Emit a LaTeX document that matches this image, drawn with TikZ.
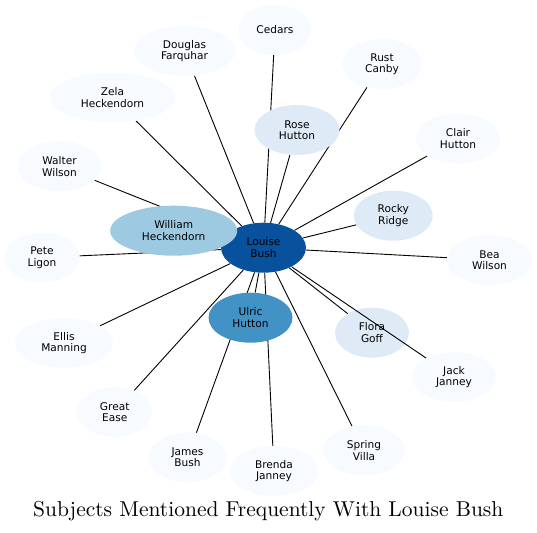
\documentclass[tikz,border=0pt]{standalone}
\usepackage{fontspec}
\newfontfamily\nodefont{DejaVu Sans}
\newfontfamily\titlefont[Extension=.otf]{lmroman10-regular}
\usetikzlibrary{shapes.geometric}
\pgfdeclarelayer{bg}
\pgfsetlayers{bg,main}
\definecolor{cA}{HTML}{F7FBFF}
\definecolor{cB}{HTML}{DEEBF7}
\definecolor{cC}{HTML}{9ECAE1}
\definecolor{cD}{HTML}{4292C6}
\definecolor{cE}{HTML}{08519C}
\begin{document}
\begin{tikzpicture}[x=1pt,y=-1pt,
  ent/.style={ellipse, draw=none, inner sep=0pt, minimum height=50pt, align=center,
    font=\nodefont\fontsize{10.6}{11.5}\selectfont},
  link/.style={line width=0.9pt, draw=black}]
\useasboundingbox (0,0) rectangle (537,532);
% nodes
\node[ent, fill=cE, minimum width=85pt] (louise) at (263.5,247.7) {Louise\\Bush};
\node[ent, fill=cC, minimum width=127pt] (william) at (173.7,230.7) {William\\Heckendorn};
\node[ent, fill=cD, minimum width=84pt] (ulric) at (250.5,317.7) {Ulric\\Hutton};
\node[ent, fill=cB, minimum width=85pt] (rose) at (297,130) {Rose\\Hutton};
\node[ent, fill=cB, minimum width=79pt] (rocky) at (393.3,215.7) {Rocky\\Ridge};
\node[ent, fill=cB, minimum width=74pt] (flora) at (372,332.7) {Flora\\Goff};
\node[ent, fill=cA, minimum width=73pt] (cedars) at (275,30) {Cedars};
\node[ent, fill=cA, minimum width=101pt] (douglas) at (184.5,51) {Douglas\\Farquhar};
\node[ent, fill=cA, minimum width=80pt] (rust) at (382,64) {Rust\\Canby};
\node[ent, fill=cA, minimum width=126pt] (zela) at (112.5,97.5) {Zela\\Heckendorn};
\node[ent, fill=cA, minimum width=84pt] (clair) at (458,138.7) {Clair\\Hutton};
\node[ent, fill=cA, minimum width=84pt] (walter) at (59.5,166.3) {Walter\\Wilson};
\node[ent, fill=cA, minimum width=75pt] (pete) at (42,257.5) {Pete\\Ligon};
\node[ent, fill=cA, minimum width=85pt] (bea) at (489.5,260) {Bea\\Wilson};
\node[ent, fill=cA, minimum width=98pt] (ellis) at (64,343) {Ellis\\Manning};
\node[ent, fill=cA, minimum width=84pt] (jack) at (454,377) {Jack\\Janney};
\node[ent, fill=cA, minimum width=75pt] (great) at (114.7,412) {Great\\Ease};
\node[ent, fill=cA, minimum width=78pt] (james) at (187.5,457.3) {James\\Bush};
\node[ent, fill=cA, minimum width=88pt] (brenda) at (274,471) {Brenda\\Janney};
\node[ent, fill=cA, minimum width=82pt] (spring) at (364,450.3) {Spring\\Villa};
% edges
\begin{pgfonlayer}{bg}
\foreach \n in {william,ulric,rose,rocky,flora,cedars,douglas,rust,zela,clair,walter,pete,bea,ellis,great,james,brenda,spring}
  \draw[link] (louise) -- (\n);
\end{pgfonlayer}
\draw[link] (louise) -- (jack);
% title
\node[anchor=base, font=\titlefont\fontsize{21.5}{24}\selectfont, inner sep=0pt] (title) at (268.3,516.7) {Subjects Mentioned Frequently With Louise Bush};
\end{tikzpicture}
\end{document}
